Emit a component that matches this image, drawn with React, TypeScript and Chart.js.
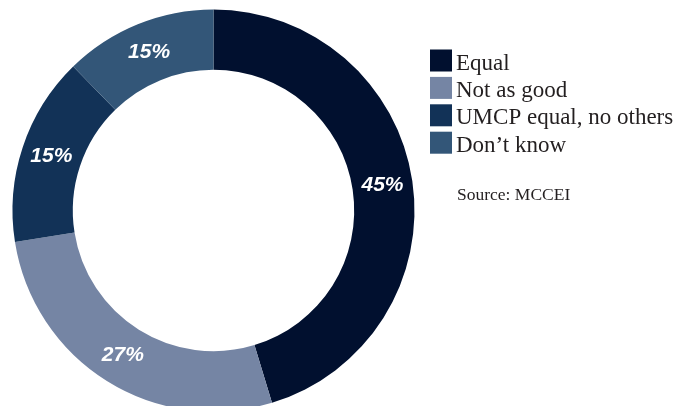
import React, { useEffect, useRef } from "react";
import { Chart, registerables } from "chart.js";

Chart.register(...registerables);

const categories = ["Equal", "Not as good", "UMCP equal, no others", "Don\u2019t know"];
const values = [45.3, 27.2, 15.2, 12.3];
const valueLabels = ["45%", "27%", "15%", "15%"];
const colors = ["#01102f", "#7585a4", "#123257", "#335678"];
const sourceText = "Source: MCCEI";

const labelPlugin = {
  id: "sliceLabels",
  afterDatasetsDraw(chart: any) {
    const ctx = chart.ctx;
    const meta = chart.getDatasetMeta(0);
    ctx.save();
    ctx.fillStyle = "#ffffff";
    ctx.font = "italic bold 21px 'Liberation Sans', Arial, sans-serif";
    ctx.textAlign = "center";
    ctx.textBaseline = "middle";
    meta.data.forEach((arc: any, i: number) => {
      const p = arc.tooltipPosition();
      ctx.fillText(valueLabels[i], p.x, p.y);
    });
    ctx.restore();
  },
};

const legendPlugin = {
  id: "sideLegend",
  afterDraw(chart: any) {
    const ctx = chart.ctx;
    const x0 = 430;
    const y0 = 49.5;
    const step = 27.4;
    const box = 22;
    ctx.save();
    ctx.textAlign = "left";
    ctx.textBaseline = "alphabetic";
    ctx.font = "23px 'Liberation Serif', 'Times New Roman', serif";
    categories.forEach((c, i) => {
      const y = y0 + i * step;
      ctx.fillStyle = colors[i];
      ctx.fillRect(x0, y, box, box);
      ctx.fillStyle = "#231f20";
      ctx.fillText(c, x0 + 26, y + 20);
    });
    ctx.font = "17.5px 'Liberation Serif', 'Times New Roman', serif";
    ctx.fillText(sourceText, x0 + 27, 200);
    ctx.restore();
  },
};

export default function App() {
  const ref = useRef<HTMLCanvasElement | null>(null);
  useEffect(() => {
    if (!ref.current) return;
    const chart = new Chart(ref.current, {
      type: "doughnut",
      data: {
        labels: categories,
        datasets: [
          {
            data: values,
            backgroundColor: colors,
            borderWidth: 0,
          },
        ],
      },
      options: {
        responsive: false,
        animation: false,
        cutout: "70%",
        layout: { padding: { left: 12.5, right: 264.5, top: 9.5, bottom: 18.5 } },
        plugins: {
          legend: { display: false },
          tooltip: { enabled: false },
        },
      },
      plugins: [labelPlugin, legendPlugin],
    } as any);
    return () => chart.destroy();
  }, []);
  return (
    <div
      style={{
        position: "absolute",
        left: 0,
        top: 0,
        width: 679,
        height: 406,
        overflow: "hidden",
        background: "#ffffff",
      }}
    >
      <canvas ref={ref} width={679} height={430} style={{ width: 679, height: 430, display: "block" }} />
    </div>
  );
}
